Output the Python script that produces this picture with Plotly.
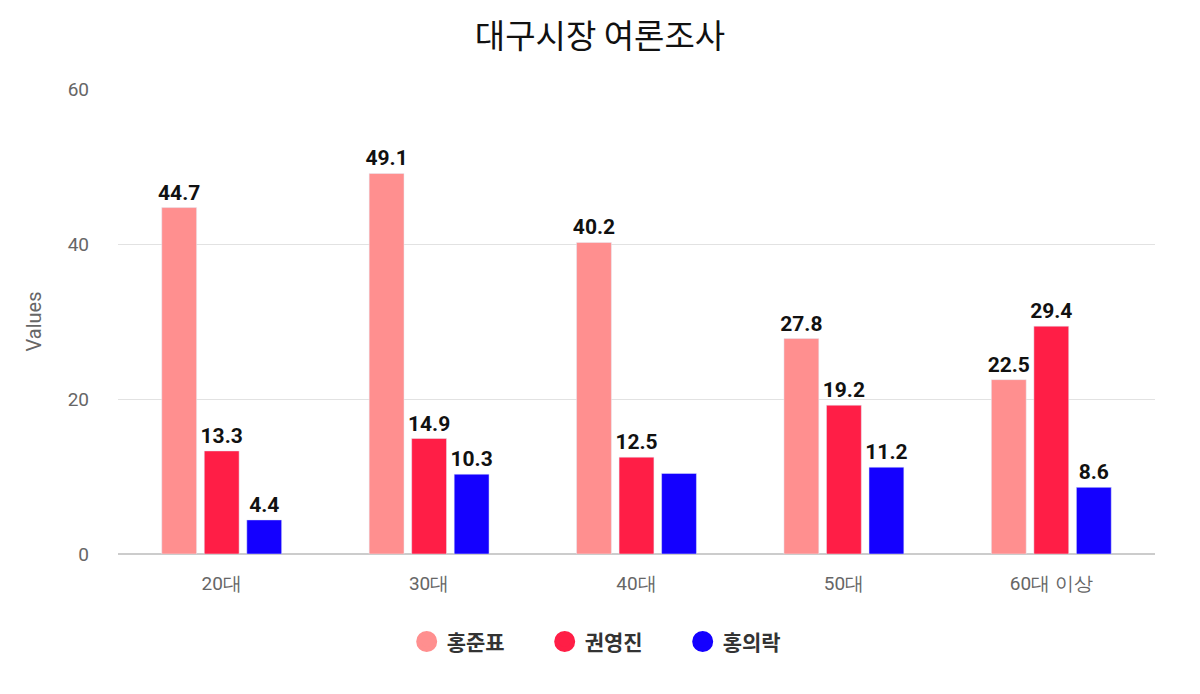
import plotly.graph_objects as go

categories = ["20대", "30대", "40대", "50대", "60대 이상"]
series_names = ["홍준표", "권영진", "홍의락"]
hong_jp = [44.7, 49.1, 40.2, 27.8, 22.5]
kwon_yj = [13.3, 14.9, 12.5, 19.2, 29.4]
hong_ur = [4.4, 10.3, 10.4, 11.2, 8.6]
# the 40대 홍의락 value is drawn without a label in the reference
hong_ur_labels = ["4.4", "10.3", "", "11.2", "8.6"]
colors = ["#FF8F8F", "#FF1E46", "#1400FF"]

values = [hong_jp, kwon_yj, hong_ur]
labels = [[f"{v}" for v in hong_jp], [f"{v}" for v in kwon_yj], hong_ur_labels]

fig = go.Figure()
for name, vals, labs, col in zip(series_names, values, labels, colors):
    fig.add_trace(go.Bar(
        x=categories, y=vals, name=name, marker_color=col,
        text=labs, textposition="outside", cliponaxis=False, constraintext="none",
        texttemplate="<b>%{text}</b>",
        textfont=dict(family="Roboto", size=21, color="#111"),
        showlegend=False, hoverinfo="skip",
    ))
    fig.add_trace(go.Scatter(
        x=[None], y=[None], mode="markers", name=name,
        marker=dict(symbol="circle", size=16, color=col, line=dict(color=col, width=5)),
        showlegend=True,
    ))

fig.update_layout(
    width=1200, height=694,
    paper_bgcolor="white", plot_bgcolor="white",
    margin=dict(l=118, r=45, t=89, b=140),
    title=dict(text="대구시장 여론조사", x=0.5, xanchor="center", y=0.947, yanchor="middle",
               font=dict(family="Noto Sans CJK KR", size=33, color="#111")),
    barmode="group", bargap=0.385, bargroupgap=0.18,
    legend=dict(orientation="h", x=0.478, xanchor="center", y=-0.189, yanchor="middle",
                font=dict(family="Noto Sans CJK KR", size=21, color="#333", weight="bold"),
                entrywidth=93),
    font=dict(family="Roboto"),
)
fig.update_yaxes(range=[0, 60], tickvals=[0, 20, 40, 60], showgrid=True, gridcolor="#E2E2E2",
                 zeroline=True, zerolinecolor="#CCCCCC", zerolinewidth=1.5,
                 tickfont=dict(family="Roboto", size=19, color="#666"),
                 title=dict(text="Values", font=dict(family="Roboto", size=20, color="#666"), standoff=20),
                 ticks="", ticklabelstandoff=28)
fig.update_xaxes(tickfont=dict(family="Roboto", size=19, color="#666"), showline=False, ticks="",
                 ticklabelstandoff=16)

fig.write_html("out.html", config={"displayModeBar": False},
               post_script="document.body.style.margin='0';")
